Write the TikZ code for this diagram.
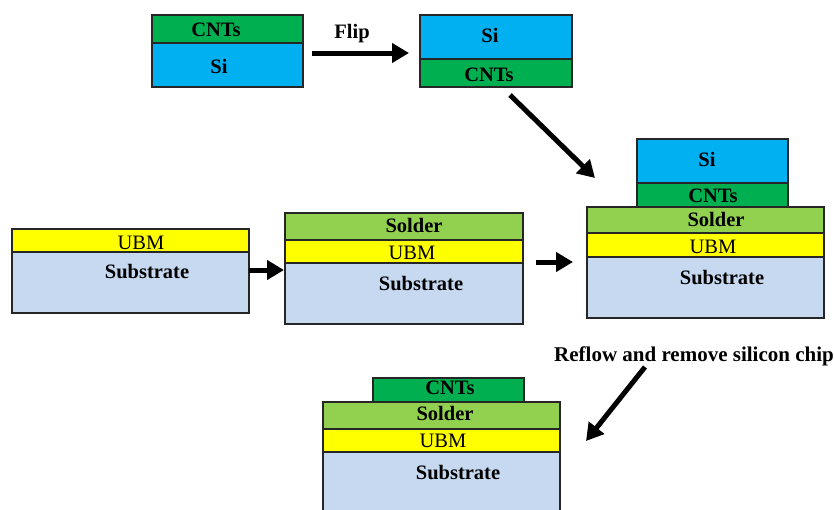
\documentclass[tikz,border=0pt]{standalone}
\usepackage{fontspec}
\setmainfont{Liberation Serif}
\usetikzlibrary{arrows.meta}

\definecolor{siblue}{HTML}{00B0F0}
\definecolor{cntgreen}{HTML}{00B050}
\definecolor{soldergreen}{HTML}{92D050}
\definecolor{ubmyellow}{HTML}{FFFF00}
\definecolor{substrateblue}{HTML}{C6D9F1}
\definecolor{edgegray}{HTML}{262626}

\tikzset{
  layer/.style={draw=edgegray, line width=1.4pt, fill=#1},
  lbl/.style={inner sep=0pt, text height=13.5pt, text depth=0pt,
              font=\fontsize{20.5}{21}\selectfont\bfseries},
  lblreg/.style={inner sep=0pt, text height=13.5pt, text depth=0pt,
              font=\fontsize{20.5}{21}\selectfont},
  bigarrow/.style={draw=black, line width=5pt, -{Triangle[length=17pt,width=19pt]}},
}

% one layer of a stack: name, left, top, right, bottom, fill colour
\newcommand\slab[6]{%
  \node[layer=#6, anchor=north west, inner sep=0pt, outer sep=0pt,
        minimum width={(#4-#2)*1pt}, minimum height={(#5-#3)*1pt}] (#1) at (#2,#3) {};}

\begin{document}
\begin{tikzpicture}[x=1pt,y=-1pt]
\useasboundingbox (0,0) rectangle (834,509);
\clip (0,0) rectangle (834,509);

% chip with CNTs on top
\slab{aCnt}{152}{15}{303}{43}{cntgreen}
\slab{aSi}{152}{43}{303}{87}{siblue}
\node[lbl] (aCntT) at (216,30) {CNTs};
\node[lbl] (aSiT) at (219,67) {Si};

% flipped chip
\slab{bSi}{420}{15}{572}{59}{siblue}
\slab{bCnt}{420}{59}{572}{87}{cntgreen}
\node[lbl] (bSiT) at (490,36) {Si};
\node[lbl] (bCntT) at (489,75) {CNTs};

\node[lbl] (flipT) at (352,32) {Flip};
\coordinate (flipS) at (312,53);
\coordinate (flipE) at (409,53);
\draw[bigarrow] (flipS) -- (flipE);

% substrate with UBM
\slab{cUbm}{12}{229}{249}{252}{ubmyellow}
\slab{cSub}{12}{252}{249}{313}{substrateblue}
\node[lblreg] (cUbmT) at (141,243) {UBM};
\node[lbl] (cSubT) at (147,272) {Substrate};

% substrate with UBM and solder
\slab{dSol}{285}{213}{523}{240}{soldergreen}
\slab{dUbm}{285}{240}{523}{263}{ubmyellow}
\slab{dSub}{285}{263}{523}{324}{substrateblue}
\node[lbl] (dSolT) at (414,226) {Solder};
\node[lblreg] (dUbmT) at (412,253) {UBM};
\node[lbl] (dSubT) at (421,284) {Substrate};

% assembled stack
\slab{eSi}{637}{139}{788}{183}{siblue}
\slab{eCnt}{637}{183}{788}{207}{cntgreen}
\slab{eSol}{587}{207}{824}{233}{soldergreen}
\slab{eUbm}{587}{233}{824}{257}{ubmyellow}
\slab{eSub}{587}{257}{824}{318}{substrateblue}
\node[lbl] (eSiT) at (707,160) {Si};
\node[lbl] (eCntT) at (713,196) {CNTs};
\node[lbl] (eSolT) at (716,220) {Solder};
\node[lblreg] (eUbmT) at (713,247) {UBM};
\node[lbl] (eSubT) at (722,278) {Substrate};

% transferred CNTs after reflow
\slab{fCnt}{373}{378}{524}{402}{cntgreen}
\slab{fSol}{323}{402}{560}{429}{soldergreen}
\slab{fUbm}{323}{429}{560}{452}{ubmyellow}
\slab{fSub}{323}{452}{560}{530}{substrateblue}
\node[lbl] (fCntT) at (450,388) {CNTs};
\node[lbl] (fSolT) at (445,414) {Solder};
\node[lblreg] (fUbmT) at (443,441) {UBM};
\node[lbl] (fSubT) at (458,473) {Substrate};

% process arrows
\coordinate (diagS) at (510,95);
\coordinate (diagE) at (595,178);
\draw[bigarrow] (diagS) -- (diagE);

\coordinate (cdS) at (249,270);
\coordinate (cdE) at (284,270);
\draw[bigarrow] (cdS) -- (cdE);

\coordinate (deS) at (536,262);
\coordinate (deE) at (573,262);
\draw[bigarrow] (deS) -- (deE);

\node[lbl, font=\fontsize{21}{22}\selectfont\bfseries] (reflowT) at (694,355) {Reflow and remove silicon chip};
\coordinate (refS) at (645,367);
\coordinate (refE) at (586,441);
\draw[bigarrow] (refS) -- (refE);
\end{tikzpicture}
\end{document}
